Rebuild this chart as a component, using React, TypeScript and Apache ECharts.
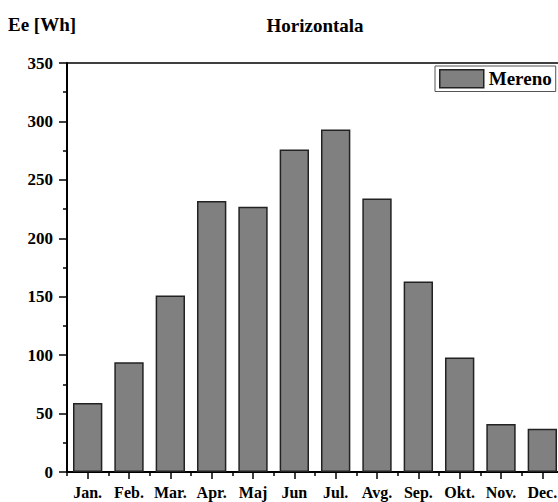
import React, { useEffect, useRef } from "react";
import * as echarts from "echarts";

const months = ["Jan.", "Feb.", "Mar.", "Apr.", "Maj", "Jun", "Jul.", "Avg.", "Sep.", "Okt.", "Nov.", "Dec."];
const mereno = [59, 94, 151, 232, 227, 276, 293, 234, 163, 98, 41, 37];
const seriesName = "Mereno";
const chartTitle = "Horizontala";
const yAxisTitle = "Ee [Wh]";
const yMin = 0;
const yMax = 350;
const yStep = 50;

const FONT = "'Liberation Serif', 'Times New Roman', serif";

export default function App() {
  const ref = useRef<HTMLDivElement>(null);
  useEffect(() => {
    if (!ref.current) return;
    const chart = echarts.init(ref.current, null, { renderer: "svg" });
    chart.setOption({
      animation: false,
      backgroundColor: "#ffffff",
      title: [
        {
          text: chartTitle,
          left: 315,
          top: 16,
          padding: 0,
          textAlign: "center",
          textStyle: { fontFamily: FONT, fontWeight: "bold", fontSize: 19, color: "#000" },
        },
        {
          text: yAxisTitle,
          left: 8,
          top: 15,
          padding: 0,
          textStyle: { fontFamily: FONT, fontWeight: "bold", fontSize: 19, color: "#000" },
        },
      ],
      legend: {
        data: [{ name: seriesName, icon: "rect" }],
        left: 435,
        top: 66,
        padding: [3, 4, 3, 4],
        itemWidth: 44,
        itemHeight: 18,
        backgroundColor: "#fff",
        borderColor: "#555",
        borderWidth: 1,
        textStyle: { fontFamily: FONT, fontWeight: "bold", fontSize: 19, color: "#000" },
        itemStyle: { color: "#808080", borderColor: "#222", borderWidth: 1.5 },
      },
      grid: {
        left: 67,
        top: 63,
        bottom: 30,
        width: 496,
        show: true,
        borderColor: "#000",
        borderWidth: 1.5,
        backgroundColor: "transparent",
      },
      xAxis: [
        {
          type: "category",
          data: months,
          position: "bottom",
          boundaryGap: true,
          axisLine: { show: true, lineStyle: { color: "#000", width: 2 } },
          axisTick: { show: true, alignWithLabel: true, length: 7, lineStyle: { color: "#000", width: 1.5 } },
          axisLabel: { interval: 0, margin: 12, fontFamily: FONT, fontWeight: "bold", fontSize: 16, color: "#000" },
          splitLine: { show: false },
        },
        {
          type: "category",
          data: months,
          position: "bottom",
          boundaryGap: true,
          axisLine: { show: false },
          axisTick: { show: true, interval: 0, alignWithLabel: false, length: 4, lineStyle: { color: "#000", width: 1.5 } },
          axisLabel: { show: false },
          splitLine: { show: false },
        },
      ],
      yAxis: {
        type: "value",
        min: yMin,
        max: yMax,
        interval: yStep,
        axisLine: { show: true, lineStyle: { color: "#000", width: 2 } },
        axisTick: { show: true, length: 8, lineStyle: { color: "#000", width: 1.5 } },
        minorTick: { show: true, splitNumber: 2, length: 4, lineStyle: { color: "#000", width: 1.5 } },
        axisLabel: { margin: 14, fontFamily: FONT, fontWeight: "bold", fontSize: 17, color: "#000" },
        splitLine: { show: false },
      },
      series: [
        {
          name: seriesName,
          type: "bar",
          data: mereno,
          barCategoryGap: "29%",
          itemStyle: { color: "#808080", borderColor: "#222", borderWidth: 1.5 },
        },
      ],
    });
    return () => chart.dispose();
  }, []);
  return (
    <div style={{ position: "absolute", left: 0, top: 0, width: 558, height: 502, overflow: "hidden" }}>
      <div ref={ref} style={{ width: 566, height: 502 }} />
    </div>
  );
}
